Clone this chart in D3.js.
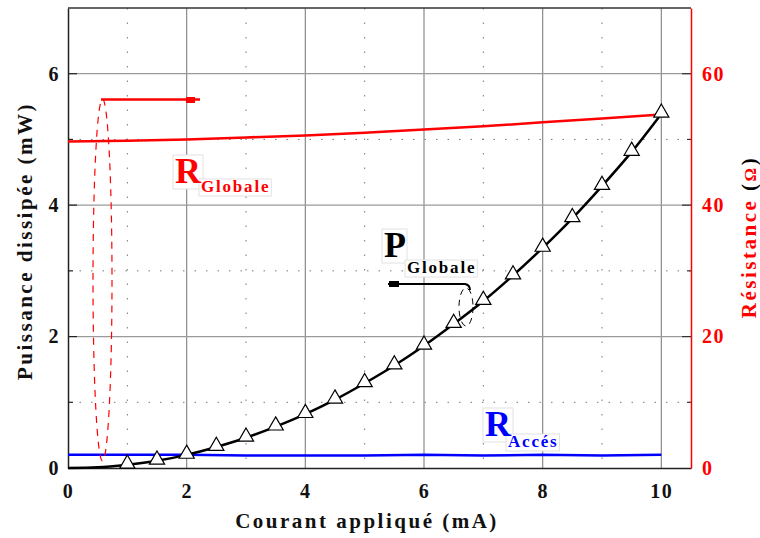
<!DOCTYPE html>
<html><head><meta charset="utf-8">
<script src="https://cdn.jsdelivr.net/npm/d3@7"></script>
<style>body{margin:0;background:#fff}svg{display:block}text{font-family:"Liberation Serif","Times New Roman",serif;font-weight:bold}</style>
</head><body><svg id="c" width="760" height="538"></svg>
<script>
const xTicks=[0,2,4,6,8,10];
const pTicks=[0,2,4,6];
const rTicks=[0,20,40,60];
const pCurrent=[0,0.5,1,1.5,2,2.5,3,3.5,4,4.5,5,5.5,6,6.5,7,7.5,8,8.5,9,9.5,10];
const pGlobale=[0,0.01,0.05,0.11,0.2,0.32,0.46,0.63,0.82,1.04,1.29,1.56,1.86,2.19,2.54,2.93,3.35,3.80,4.29,4.81,5.39];
const rCurrent=[0,1,2,3,4,5,6,7,8,9,10];
const rGlobale=[49.7,49.8,50.0,50.3,50.6,51.0,51.5,52.0,52.6,53.2,53.8];
const rAcces=[2.0,2.0,2.0,1.9,1.9,1.9,2.0,1.9,2.0,1.9,2.0];

const svg=d3.select("#c");
const x=d3.scaleLinear().domain([0,10.5]).range([68,691]);
const y=d3.scaleLinear().domain([0,7]).range([468,8]);
const yr=d3.scaleLinear().domain([0,70]).range([468,8]);
const L=68,R=691,T=8,B=468;
const FF='"Liberation Serif","Times New Roman",serif';

// minor dotted grid
const g=svg.append("g");
[1,3,5,7,9].forEach(v=>g.append("line").attr("x1",x(v)).attr("x2",x(v)).attr("y1",T).attr("y2",B).attr("stroke","#777").attr("stroke-width",1).attr("stroke-dasharray","1.5,13"));
[1,3,5].forEach(v=>g.append("line").attr("x1",L).attr("x2",R).attr("y1",y(v)).attr("y2",y(v)).attr("stroke","#777").attr("stroke-width",1).attr("stroke-dasharray","1.5,10"));
// major grid
[2,4,6,8,10].forEach(v=>g.append("line").attr("x1",x(v)).attr("x2",x(v)).attr("y1",T).attr("y2",B).attr("stroke","#8a8a8a").attr("stroke-width",1.2));
[2,4,6].forEach(v=>g.append("line").attr("x1",L).attr("x2",R).attr("y1",y(v)).attr("y2",y(v)).attr("stroke","#9a9a9a").attr("stroke-width",1.2));

function styleTicks(sel,color){
  sel.selectAll("text").attr("font-size",20).attr("fill",color).attr("letter-spacing",1.5)
    .style("font-family",FF).style("font-weight","bold");
}
// axes
const bx=svg.append("g").attr("transform",`translate(0,${B})`).call(d3.axisBottom(x).tickValues(xTicks).tickSize(0).tickPadding(16).tickFormat(d3.format("d")));
bx.select(".domain").attr("stroke","#222").attr("stroke-width",1.5);
styleTicks(bx,"#111");
const ly=svg.append("g").attr("transform",`translate(${L},0)`).call(d3.axisLeft(y).tickValues(pTicks).tickSize(0).tickPadding(8).tickFormat(d3.format("d")));
ly.select(".domain").attr("stroke","#222").attr("stroke-width",1.5);
styleTicks(ly,"#111");
svg.append("g").selectAll("line").data([1,2,3,4,5,6]).join("line").attr("x1",L).attr("x2",d=>L+(d%2?5:9)).attr("y1",d=>y(d)).attr("y2",d=>y(d)).attr("stroke","#222").attr("stroke-width",1.2);
const ry=svg.append("g").attr("transform",`translate(${R},0)`).call(d3.axisRight(yr).tickValues(rTicks).tickSize(0).tickPadding(11).tickFormat(d3.format("d")));
ry.select(".domain").attr("stroke","#f00").attr("stroke-width",1.5);
styleTicks(ry,"#f00");
svg.append("g").selectAll("line").data([10,20,30,40,50,60]).join("line").attr("x1",d=>R-(d%20?4:9)).attr("x2",R).attr("y1",d=>yr(d)).attr("y2",d=>yr(d)).attr("stroke","#333").attr("stroke-width",1.2);
svg.append("line").attr("x1",L).attr("x2",R).attr("y1",T).attr("y2",T).attr("stroke","#333").attr("stroke-width",1.5);

// series
const lineR=d3.line().x((d,i)=>x(rCurrent[i])).y(d=>yr(d));
svg.append("path").attr("d",lineR(rAcces)).attr("fill","none").attr("stroke","#0000ff").attr("stroke-width",2.5);
svg.append("path").attr("d",lineR(rGlobale)).attr("fill","none").attr("stroke","#f00").attr("stroke-width",2.5);
const lineP=d3.line().x((d,i)=>x(pCurrent[i])).y(d=>y(d)).curve(d3.curveMonotoneX);
svg.append("path").attr("d",lineP(pGlobale)).attr("fill","none").attr("stroke","#000").attr("stroke-width",2.5);
const tri=d3.symbol().type(d3.symbolTriangle).size(100);
svg.append("g").selectAll("path").data(pGlobale.map((v,i)=>[pCurrent[i],v]).filter(d=>d[0]>=1)).join("path")
  .attr("d",tri).attr("transform",d=>`translate(${x(d[0])},${y(d[1])-1})`).attr("fill","#fff").attr("stroke","#000").attr("stroke-width",1.2);

// annotations: R Globale pointer
svg.append("ellipse").attr("cx",102.5).attr("cy",280).attr("rx",9.5).attr("ry",181).attr("fill","none").attr("stroke","#f00").attr("stroke-width",1.2).attr("stroke-dasharray","7,6");
svg.append("line").attr("x1",101).attr("x2",200).attr("y1",99.5).attr("y2",99.5).attr("stroke","#f00").attr("stroke-width",2.5);
svg.append("rect").attr("x",186).attr("y",97).attr("width",9).attr("height",6).attr("fill","#f00");
// P Globale pointer
svg.append("ellipse").attr("cx",466).attr("cy",307).attr("rx",7).attr("ry",19).attr("fill","none").attr("stroke","#000").attr("stroke-width",1).attr("stroke-dasharray","6,5");
svg.append("path").attr("d","M388,284 L465,284 Q470,285 470,290").attr("fill","none").attr("stroke","#000").attr("stroke-width",2);
svg.append("rect").attr("x",389).attr("y",281).attr("width",10).attr("height",6).attr("fill","#000");

function label(bx,by,big,sx,sy,sub,color){
  const gg=svg.append("g");
  const b=gg.append("text").attr("x",bx).attr("y",by).attr("fill",color).attr("font-size",36).style("font-family",FF).style("font-weight","bold").text(big);
  const s=gg.append("text").attr("x",sx).attr("y",sy).attr("fill",color).attr("font-size",17).attr("letter-spacing",1.8).style("font-family",FF).style("font-weight","bold").text(sub);
  [b,s].forEach(t=>{const bb=t.node().getBBox();
    gg.insert("rect","text").attr("x",bb.x-2).attr("y",bb.y+ (t===b?4:2)).attr("width",bb.width+3).attr("height",bb.height-(t===b?6:2)).attr("fill","#fff").attr("stroke","#e2e2e2").attr("stroke-width",1);});
}
label(175,183,"R",201,192,"Globale","#f00");
label(384,257,"P",407,273,"Globale","#000");
label(485,436,"R",508,447,"Accés","#0000ff");

// axis titles
function title(tr,txt,color){
  return svg.append("text").attr("transform",tr).attr("text-anchor","middle").attr("font-size",21).attr("letter-spacing",2.5).attr("fill",color).style("font-family",FF).style("font-weight","bold").text(txt);
}
title("translate(367,528)","Courant appliqué (mA)","#111");
title("translate(32,241) rotate(-90)","Puissance dissipée (mW)","#111");
const rt=svg.append("text").attr("transform","translate(756,237) rotate(-90)").attr("text-anchor","middle").attr("font-size",21).attr("letter-spacing",2.5).attr("fill","#f00").style("font-family",FF).style("font-weight","bold");
rt.append("tspan").text("Résistance ");
rt.append("tspan").attr("fill","#000").text("(");
rt.append("tspan").attr("font-size",17).text("Ω");
rt.append("tspan").attr("fill","#000").text(")");
</script></body></html>
